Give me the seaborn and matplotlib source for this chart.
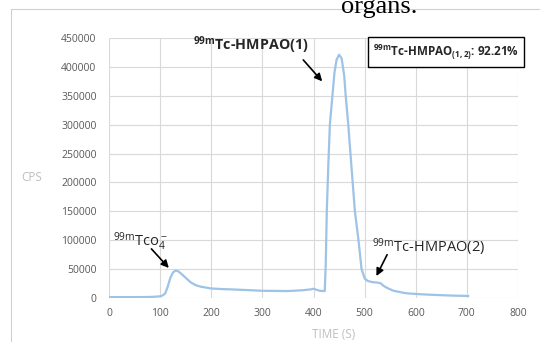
import matplotlib
matplotlib.use("Agg")
import matplotlib.pyplot as plt
import seaborn as sns
from matplotlib.lines import Line2D

# Donnees (temps en s, comptage en CPS)
temps = [0, 20, 40, 60, 80, 95, 100, 105, 110, 115, 120, 125, 130, 135, 140,
         150, 160, 170, 180, 200, 220, 250, 300, 350, 380, 395, 400, 405, 412,
         420, 422, 424, 426, 429, 432, 437, 441, 445, 450, 455, 460, 463, 468,
         474, 481, 488, 494, 500, 506, 515, 527, 532, 537, 545, 556, 570, 583,
         602, 620, 641, 670, 703]
cps = [1500, 1500, 1500, 1600, 1800, 2500, 3000, 4500, 8000, 20000, 35000,
       44000, 47500, 46500, 43000, 35000, 27000, 22000, 19500, 16500, 15500,
       14500, 12500, 12000, 13500, 15000, 16000, 14500, 12500, 12000, 12000,
       60000, 150000, 230000, 300000, 350000, 390000, 412000, 421000, 415000,
       385000, 350000, 300000, 230000, 150000, 100000, 50000, 34000, 29500,
       27500, 26500, 25000, 21000, 17000, 12700, 10000, 8100, 6900, 6000,
       5200, 4200, 3500]

xticks = [0, 100, 200, 300, 400, 500, 600, 700, 800]
yticks = [0, 50000, 100000, 150000, 200000, 250000, 300000, 350000, 400000, 450000]

sns.set_theme(style="whitegrid")
plt.rcParams['font.family'] = ['Open Sans', 'DejaVu Sans']
plt.rcParams['mathtext.default'] = 'regular'

fig = plt.figure(figsize=(5.4, 3.42), dpi=100)
ax = fig.add_axes([109 / 540, 1 - 298 / 342, 409 / 540, 260 / 342])

sns.lineplot(x=temps, y=cps, ax=ax, color='#9dc3e6', linewidth=1.6)

ax.set_xlim(0, 800)
ax.set_ylim(0, 450000)
ax.set_xticks(xticks)
ax.set_yticks(yticks)
ax.set_xticklabels([str(v) for v in xticks])
ax.set_yticklabels([str(v) for v in yticks])
ax.tick_params(axis='x', length=0, pad=7, labelsize=7.5, labelcolor='#595959')
ax.tick_params(axis='y', length=0, pad=9, labelsize=7.5, labelcolor='#595959')
ax.grid(True, color='#d9d9d9', linewidth=0.8)
for s in ax.spines.values():
    s.set_visible(False)
ax.set_facecolor('white')

ax.set_xlabel('')
ax.set_ylabel('')
fig.text(334 / 540, 1 - 334 / 342, 'TIME (S)', ha='center', va='center',
         fontsize=8.5, color='#bfbfbf')
fig.text(32 / 540, 1 - 177 / 342, 'CPS', ha='center', va='center',
         fontsize=8.5, color='#bfbfbf')

# Annotations : textes et fleches
arrow = dict(arrowstyle='-|>', color='black', lw=1.2, mutation_scale=11,
             shrinkA=0, shrinkB=0)
ax.text(278, 438000, r'$^{99m}$Tc-HMPAO(1)', fontsize=10.3, fontweight='bold',
        ha='center', va='center')
ax.annotate('', xy=(417, 375000), xytext=(380, 412000), arrowprops=arrow)

ax.text(8, 97000, r'$^{99m}$Tco$_4^-$', fontsize=10.5, ha='left', va='center')
ax.annotate('', xy=(117, 52000), xytext=(83, 85000), arrowprops=arrow)

ax.text(515, 88000, r'$^{99m}$Tc-HMPAO(2)', fontsize=10.5, ha='left',
        va='center')
ax.annotate('', xy=(523, 38000), xytext=(544, 75000), arrowprops=arrow)

ax.text(659, 425500, r'$^{99m}$Tc-HMPAO$_{(1,2)}$: 92.21%', fontsize=8.4,
        fontweight='bold', ha='center', va='center', clip_on=False,
        bbox=dict(boxstyle='square,pad=0.45', facecolor='white',
                  edgecolor='black', linewidth=1.0))

# Cadre de la figure et texte coupe du document
fig.add_artist(Line2D([11 / 540, 11 / 540], [0, 1 - 9 / 342],
                      color='#d0d0d0', linewidth=0.8))
fig.add_artist(Line2D([11 / 540, 1], [1 - 9 / 342, 1 - 9 / 342],
                      color='#d0d0d0', linewidth=0.8))
fig.text(379 / 540, 1 - 13 / 342, 'organs.', ha='center', va='baseline',
         fontsize=19, family='Liberation Serif', color='black')

fig.savefig('out.png', dpi=100)
